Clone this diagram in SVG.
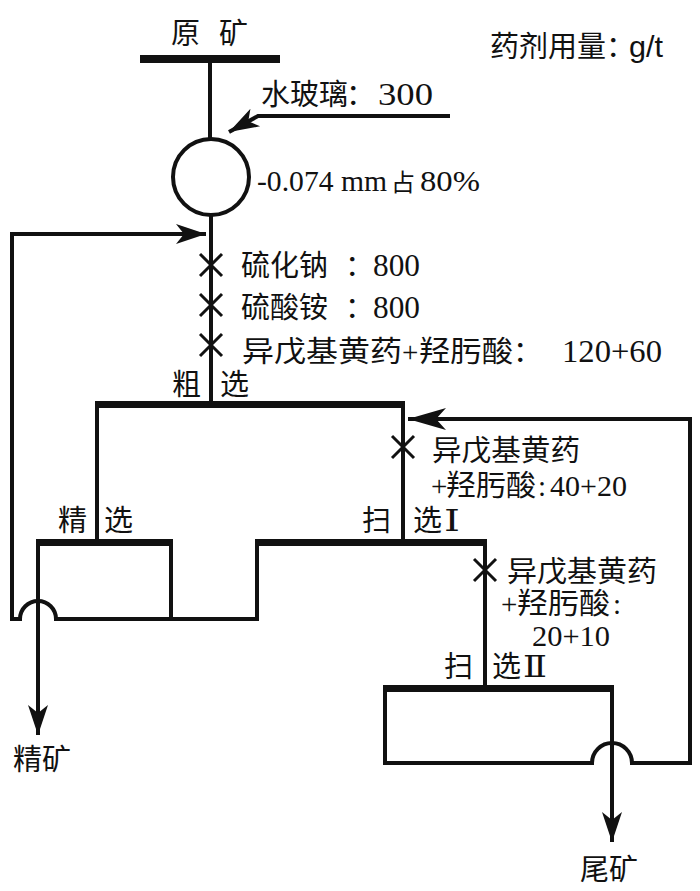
<svg xmlns="http://www.w3.org/2000/svg" width="700" height="891" viewBox="0 0 700 891">
<style>
text{font-family:"Noto Sans CJK SC","Liberation Serif",sans-serif;font-size:29px;fill:#111}
.n{font-family:"Liberation Serif",serif}
.r{font-family:"DejaVu Serif","Liberation Serif",serif}
.a{font-family:"Liberation Sans",sans-serif}
.bar{fill:#111}
.ln{fill:none;stroke:#111;stroke-width:4;stroke-linejoin:miter}
.x{stroke:#111;stroke-width:3}
</style>
<defs>
<marker id="ah" viewBox="-32 -12 34 24" refX="0" refY="0" markerWidth="34" markerHeight="24" markerUnits="userSpaceOnUse" orient="auto">
<path d="M0,0 L-30,-10 L-22,0 L-30,10 Z" fill="#111"/>
</marker>
<marker id="ah2" viewBox="-40 -12 42 24" refX="0" refY="0" markerWidth="42" markerHeight="24" markerUnits="userSpaceOnUse" orient="auto">
<path d="M0,0 L-38,-11 L-28,0 L-38,11 Z" fill="#111"/>
</marker>
<g id="xm"><line class="x" x1="-11" y1="-11" x2="11" y2="11"/><line class="x" x1="-11" y1="11" x2="11" y2="-11"/></g>
</defs>
<rect width="700" height="891" fill="#fff"/>

<g id="connectors">
<line class="ln" x1="210" y1="63" x2="210" y2="140"/>
<polyline class="ln" points="450,116 258,116 229,132" marker-end="url(#ah)"/>
<line class="ln" x1="211" y1="215" x2="211" y2="402"/>
<line class="ln" x1="97" y1="404" x2="97" y2="541"/>
<line class="ln" x1="403" y1="404" x2="403" y2="541"/>
<line class="ln" x1="485" y1="542" x2="485" y2="687"/>
<path class="ln" d="M257,542 L257,619 L56,619 A18,18 0 0 0 20,619 L12,619 L12,234 L206,234" marker-end="url(#ah)"/>
<line class="ln" x1="171" y1="542" x2="171" y2="619"/>
<line class="ln" x1="38" y1="542" x2="38" y2="735" marker-end="url(#ah)"/>
<path class="ln" d="M385,688 L385,763 L592,763 A20,20 0 0 1 632,763 L690,763 L690,419 L408,419" marker-end="url(#ah2)"/>
<line class="ln" x1="612" y1="688" x2="612" y2="842" marker-end="url(#ah)"/>
<use href="#xm" x="211" y="265"/>
<use href="#xm" x="211" y="305"/>
<use href="#xm" x="211" y="345"/>
<use href="#xm" x="403" y="447"/>
<use href="#xm" x="485" y="570"/>
</g>

<g id="feed">
<rect class="bar" x="140" y="55" width="140" height="8"/>
<text y="44" font-size="31"><tspan x="171">原 </tspan><tspan x="219">矿</tspan></text>
</g>
<g id="dosage-note">
<text y="57" font-size="24"><tspan x="490">药剂用量：</tspan><tspan class="a" x="629" textLength="34" lengthAdjust="spacingAndGlyphs">g/t</tspan></text>
</g>
<g id="water-glass">
<text y="105" font-size="28"><tspan x="261">水玻璃</tspan><tspan x="346">：</tspan><tspan class="n" x="378" font-size="31" textLength="55" lengthAdjust="spacingAndGlyphs">300</tspan></text>
</g>
<g id="grinding">
<circle cx="211" cy="177" r="38" fill="none" stroke="#111" stroke-width="4"/>
<text y="191"><tspan class="n" x="257" textLength="130" lengthAdjust="spacingAndGlyphs">-0.074 mm</tspan><tspan x="391" font-size="24">占 </tspan><tspan class="n" x="420" textLength="60" lengthAdjust="spacingAndGlyphs">80%</tspan></text>
</g>
<g id="rougher-reagents">
<text y="276" font-size="29"><tspan x="241">硫化钠</tspan><tspan x="345">：</tspan><tspan class="n" x="373" font-size="31" textLength="47" lengthAdjust="spacingAndGlyphs">800</tspan></text>
<text y="318" font-size="29"><tspan x="241">硫酸铵</tspan><tspan x="345">：</tspan><tspan class="n" x="373" font-size="31" textLength="47" lengthAdjust="spacingAndGlyphs">800</tspan></text>
<text y="362" font-size="31"><tspan x="242" textLength="160" lengthAdjust="spacingAndGlyphs">异戊基黄药</tspan><tspan class="n" x="402">+</tspan><tspan x="419" textLength="94" lengthAdjust="spacingAndGlyphs">羟肟酸</tspan><tspan x="513">：</tspan><tspan class="n" x="562" font-size="32" textLength="100" lengthAdjust="spacingAndGlyphs">120+60</tspan></text>
</g>
<g id="rougher">
<rect class="bar" x="95" y="401" width="310" height="7"/>
<text y="395" font-size="30"><tspan x="172">粗 </tspan><tspan x="220">选</tspan></text>
</g>
<g id="cleaner">
<rect class="bar" x="36" y="539" width="137" height="7"/>
<text y="531" font-size="30"><tspan x="58">精 </tspan><tspan x="104">选</tspan></text>
</g>
<g id="scavenger1">
<rect class="bar" x="255" y="539" width="232" height="7"/>
<text y="531" font-size="30"><tspan x="362">扫 </tspan><tspan x="413">选</tspan><tspan class="r" x="444" textLength="16" lengthAdjust="spacingAndGlyphs">Ⅰ</tspan></text>
<text y="461" font-size="29" x="432" textLength="148" lengthAdjust="spacingAndGlyphs">异戊基黄药</text>
<text y="496" font-size="29"><tspan class="n" x="431">+</tspan><tspan x="446" textLength="90" lengthAdjust="spacingAndGlyphs">羟肟酸</tspan><tspan class="n" x="538">:</tspan><tspan class="n" x="550" font-size="30" textLength="77" lengthAdjust="spacingAndGlyphs">40+20</tspan></text>
</g>
<g id="scavenger2">
<rect class="bar" x="383" y="685" width="231" height="7"/>
<text y="677" font-size="30"><tspan x="444">扫 </tspan><tspan x="492">选</tspan><tspan class="r" x="523" textLength="24" lengthAdjust="spacingAndGlyphs">Ⅱ</tspan></text>
<text y="582" font-size="29" x="507" textLength="150" lengthAdjust="spacingAndGlyphs">异戊基黄药</text>
<text y="614" font-size="29"><tspan class="n" x="501">+</tspan><tspan x="517" textLength="93" lengthAdjust="spacingAndGlyphs">羟肟酸</tspan><tspan class="n" x="613">:</tspan></text>
<text y="646" font-size="30" class="n" x="532" textLength="78" lengthAdjust="spacingAndGlyphs">20+10</text>
</g>
<g id="concentrate">
<text y="770" font-size="32" x="13">精矿</text>
</g>
<g id="tailings">
<text y="880" font-size="32" x="580">尾矿</text>
</g>
</svg>
